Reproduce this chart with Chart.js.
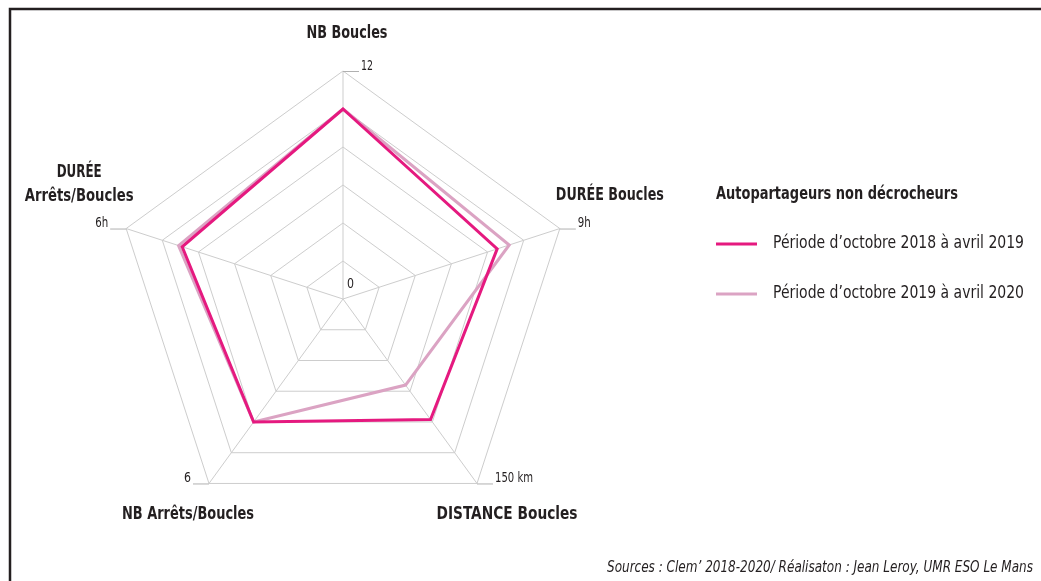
<!DOCTYPE html>
<html>
<head>
<meta charset="utf-8">
<script src="https://cdn.jsdelivr.net/npm/chart.js@4"></script>
<style>
  html, body { margin: 0; padding: 0; background: #fff; }
  #wrap { position: relative; width: 1041px; height: 581px; }
</style>
</head>
<body>
<div id="wrap"><canvas id="chart"></canvas></div>
<script>
const axes = ["NB Boucles", "DURÉE Boucles", "DISTANCE Boucles", "NB Arrêts/Boucles", ["DURÉE", "Arrêts/Boucles"]];
const axisMax = [12, 9, 150, 6, 6];
const tickLabels = ["12", "9h", "150 km", "6", "6h"];
const period2018 = [10, 6.4, 98, 4, 4.45];
const period2019 = [10, 6.9, 70, 4, 4.55];
const seriesNames = ["Période d’octobre 2018 à avril 2019", "Période d’octobre 2019 à avril 2020"];
const seriesColors = ["#e5197f", "#dba3c3"];

const FONT = "'DejaVu Sans Condensed', 'Liberation Sans', sans-serif";

// each axis has its own scale, so map the values onto a common 0-6 ring scale
const norm = (vals) => vals.map((v, i) => (v / axisMax[i]) * 6);

// the original uses a very condensed face: squeeze text to the measured width
function txt(c, s, x, y, w) {
  const m = c.measureText(s).width;
  if (w && m > w) c.fillText(s, x, y, w);
  else c.fillText(s, x, y);
}

const decor = {
  id: "decor",
  beforeDraw(chart) {
    const c = chart.ctx;
    c.save();
    c.fillStyle = "#fff";
    c.fillRect(0, 0, chart.width, chart.height);
    c.strokeStyle = "#231f20";
    c.lineWidth = 2.5;
    c.beginPath();
    c.moveTo(10, chart.height);
    c.lineTo(10, 9);
    c.lineTo(chart.width, 9);
    c.stroke();
    c.restore();
  },
  afterDraw(chart) {
    const c = chart.ctx;
    const r = chart.scales.r;
    c.save();
    c.textBaseline = "middle";

    // axis tick labels with small leader lines
    c.font = "14px " + FONT;
    c.fillStyle = "#231f20";
    c.strokeStyle = "#b0b0b0";
    c.lineWidth = 1;
    const tickW = [12, 13, 38, 7, 13];
    tickLabels.forEach((t, i) => {
      const p = r.getPointPosition(i, r.drawingArea);
      c.beginPath();
      if (i <= 2) {
        c.moveTo(p.x, p.y + 0.5);
        c.lineTo(p.x + 16, p.y + 0.5);
        c.stroke();
        c.textAlign = "left";
        txt(c, t, p.x + 18, p.y - 5, tickW[i]);
      } else {
        c.moveTo(p.x, p.y + 0.5);
        c.lineTo(p.x - 16, p.y + 0.5);
        c.stroke();
        c.textAlign = "right";
        txt(c, t, p.x - 18, p.y - 5, tickW[i]);
      }
    });
    c.textAlign = "left";
    txt(c, "0", r.xCenter + 4, r.yCenter - 15, 7);

    // axis titles
    c.font = "bold 17px " + FONT;
    const offsets = [
      { dx: 4, dy: -37, align: "center", w: [81] },
      { dx: -4, dy: -33, align: "left", w: [108] },
      { dx: 30, dy: 31, align: "center", w: [141] },
      { dx: -21, dy: 31, align: "center", w: [132] },
      { dx: -47, dy: -56, align: "center", w: [45, 109] }
    ];
    axes.forEach((lab, i) => {
      const p = r.getPointPosition(i, r.drawingArea);
      const o = offsets[i];
      c.textAlign = o.align;
      const lines = Array.isArray(lab) ? lab : [lab];
      lines.forEach((l, k) => txt(c, l, p.x + o.dx, p.y + o.dy + k * 24, o.w[k]));
    });

    // legend
    c.textAlign = "left";
    txt(c, "Autopartageurs non décrocheurs", 716, 195, 242);
    c.font = "18px " + FONT;
    seriesNames.forEach((n, i) => {
      const y = 244 + i * 50;
      c.strokeStyle = seriesColors[i];
      c.lineWidth = 3;
      c.beginPath();
      c.moveTo(716, y);
      c.lineTo(757, y);
      c.stroke();
      txt(c, n, 773, y - 1, 251);
    });

    // source
    c.font = "italic 15px " + FONT;
    c.textAlign = "right";
    txt(c, "Sources : Clem’ 2018-2020/ Réalisaton : Jean Leroy, UMR ESO Le Mans", 1033, 568, 426);
    c.restore();
  }
};

new Chart(document.getElementById("chart"), {
  type: "radar",
  data: {
    labels: axes,
    datasets: [
      {
        label: seriesNames[0],
        data: norm(period2018),
        borderColor: seriesColors[0],
        borderWidth: 3,
        backgroundColor: "transparent",
        fill: false,
        pointRadius: 0,
        tension: 0
      },
      {
        label: seriesNames[1],
        data: norm(period2019),
        borderColor: seriesColors[1],
        borderWidth: 3,
        backgroundColor: "transparent",
        fill: false,
        pointRadius: 0,
        tension: 0
      }
    ]
  },
  options: {
    responsive: true,
    maintainAspectRatio: false,
    animation: false,
    layout: {
      padding: { left: 115, top: 71, right: 470, bottom: 54 }
    },
    scales: {
      r: {
        min: 0,
        max: 6,
        ticks: { display: false, stepSize: 1 },
        pointLabels: { display: false },
        grid: { color: "#cdcdcd", lineWidth: 1 },
        angleLines: { color: "#cdcdcd", lineWidth: 1 }
      }
    },
    plugins: {
      legend: { display: false },
      tooltip: { enabled: false }
    }
  },
  plugins: [decor]
});
</script>
</body>
</html>
